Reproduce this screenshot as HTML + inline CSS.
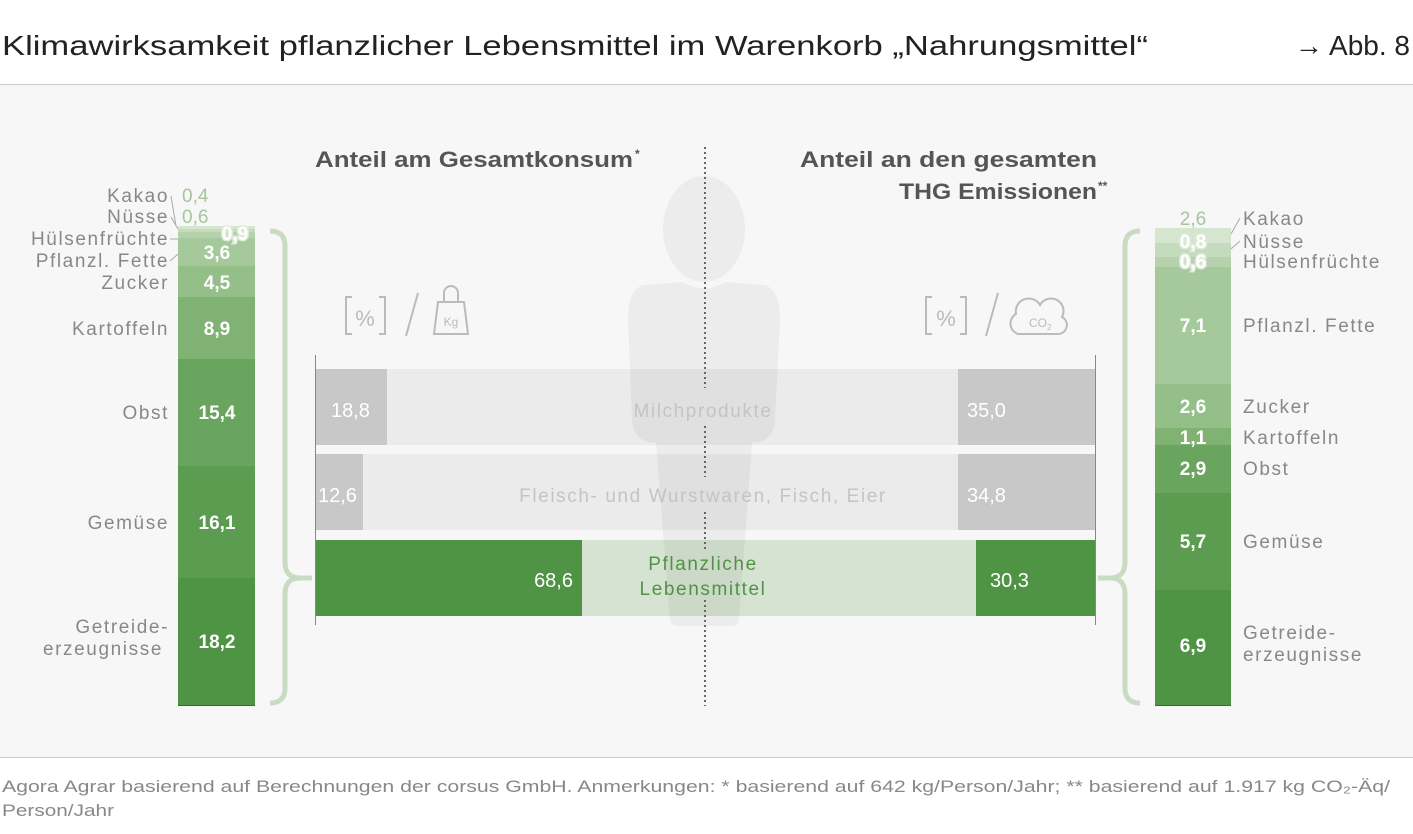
<!DOCTYPE html>
<html><head><meta charset="utf-8"><style>
html,body{margin:0;padding:0;background:#fff}
svg{display:block;font-family:"Liberation Sans",sans-serif}
.ls{letter-spacing:1.6px}
</style></head><body>
<svg width="1413" height="834" viewBox="0 0 1413 834" xmlns="http://www.w3.org/2000/svg">
<rect x="0" y="0" width="1413" height="834" fill="#fff"/>
<text x="2" y="55" font-size="28" fill="#222" textLength="1146" lengthAdjust="spacingAndGlyphs">Klimawirksamkeit pflanzlicher Lebensmittel im Warenkorb „Nahrungsmittel“</text>
<text x="1410" y="55" font-size="28" fill="#222" text-anchor="end">→ Abb. 8</text>
<rect x="0" y="84" width="1413" height="673" fill="#f7f7f7"/>
<line x1="0" y1="84.5" x2="1413" y2="84.5" stroke="#ccc"/>
<line x1="0" y1="757.5" x2="1413" y2="757.5" stroke="#ccc"/>
<text x="2" y="792" font-size="17" fill="#888" textLength="1388" lengthAdjust="spacingAndGlyphs">Agora Agrar basierend auf Berechnungen der corsus GmbH. Anmerkungen: * basierend auf 642 kg/Person/Jahr; ** basierend auf 1.917 kg CO₂-Äq/</text>
<text x="2" y="816" font-size="17" fill="#888" textLength="112" lengthAdjust="spacingAndGlyphs">Person/Jahr</text>

<!-- headers -->
<text x="315" y="167" font-size="22" font-weight="bold" fill="#555" textLength="318" lengthAdjust="spacingAndGlyphs">Anteil am Gesamtkonsum</text>
<text x="635" y="158" font-size="12" font-weight="bold" fill="#555">*</text>
<text x="800" y="167" font-size="22" font-weight="bold" fill="#555" textLength="297" lengthAdjust="spacingAndGlyphs">Anteil an den gesamten</text>
<text x="899" y="199" font-size="22" font-weight="bold" fill="#555" textLength="198" lengthAdjust="spacingAndGlyphs">THG Emissionen</text>
<text x="1098" y="190" font-size="12" font-weight="bold" fill="#555">**</text>

<!-- icons -->
<g fill="none" stroke="#bbb" stroke-width="2">
<path d="M352 297 h-6 v37 h6 M379 297 h6 v37 h-6"/>
<line x1="418" y1="293" x2="406" y2="336"/>
<path d="M434 334 L438 302 H464 L468 334 Z"/>
<path d="M444 302 v-9 a7 7 0 0 1 14 0 v9"/>
<path d="M932 297 h-6 v37 h6 M960 297 h6 v37 h-6"/>
<line x1="998" y1="293" x2="986" y2="336"/>
<path d="M1018 334 a11 11 0 0 1 -2 -20 a13 13 0 0 1 24 -9 a12 12 0 0 1 22 12 a9 9 0 0 1 -4 17 Z"/>
</g>
<text x="365" y="326" font-size="22" fill="#bbb" text-anchor="middle">%</text>
<text x="946" y="326" font-size="22" fill="#bbb" text-anchor="middle">%</text>
<text x="451" y="326" font-size="12" fill="#bbb" text-anchor="middle">Kg</text>
<text x="1029" y="327" font-size="12" fill="#bbb">CO<tspan font-size="8" dy="3">2</tspan></text>

<!-- center bars -->
<rect x="315" y="369" width="780" height="76" fill="#ebebeb"/>
<rect x="315" y="369" width="72" height="76" fill="#c8c8c8"/>
<rect x="958" y="369" width="137" height="76" fill="#c8c8c8"/>
<rect x="315" y="454" width="780" height="76" fill="#ebebeb"/>
<rect x="315" y="454" width="48" height="76" fill="#c8c8c8"/>
<rect x="958" y="454" width="137" height="76" fill="#c8c8c8"/>
<rect x="315" y="540" width="780" height="76" fill="#d6e3d2"/>
<rect x="315" y="540" width="267" height="76" fill="#4f9444"/>
<rect x="976" y="540" width="119" height="76" fill="#4f9444"/>

<!-- person -->
<g fill="#000" fill-opacity="0.045">
<ellipse cx="704" cy="229" rx="41" ry="53"/>
<path d="M643 285 Q628 290 628 320 L632 420 Q633 442 656 443 L670 620 Q671 626 678 626 L733 626 Q738 626 739 620 L752 443 Q774 442 775 420 L780 320 Q780 290 765 285 L725 282 Q704 295 683 282 Z"/>
</g>

<line x1="315.5" y1="355" x2="315.5" y2="625" stroke="#888" stroke-width="1"/>
<line x1="1095.5" y1="355" x2="1095.5" y2="625" stroke="#888" stroke-width="1"/>

<g stroke="#666" stroke-width="2" stroke-dasharray="2 3">
<line x1="705" y1="147" x2="705" y2="388"/>
<line x1="705" y1="426" x2="705" y2="477"/>
<line x1="705" y1="512" x2="705" y2="550"/>
<line x1="705" y1="600" x2="705" y2="706"/>
</g>

<g font-size="20" fill="#fff">
<text x="331" y="417">18,8</text>
<text x="967" y="417">35,0</text>
<text x="318" y="502">12,6</text>
<text x="967" y="502">34,8</text>
<text x="573" y="587" text-anchor="end">68,6</text>
<text x="990" y="587">30,3</text>
</g>
<text x="703" y="417" font-size="19" fill="#c4c4c4" text-anchor="middle" class="ls">Milchprodukte</text>
<text x="703" y="502" font-size="19" fill="#c4c4c4" text-anchor="middle" class="ls">Fleisch- und Wurstwaren, Fisch, Eier</text>
<text x="703" y="570" font-size="19" fill="#4f9444" text-anchor="middle" class="ls">Pflanzliche</text>
<text x="703" y="595" font-size="19" fill="#4f9444" text-anchor="middle" class="ls">Lebensmittel</text>

<!-- braces -->
<g fill="none" stroke="#c9dcc3" stroke-width="5">
<path d="M270 231 Q285 231 285 246 L285 562 Q285 578 300 578 M300 578 Q285 578 285 594 L285 688 Q285 703 270 703"/>
<line x1="300" y1="578" x2="312" y2="578"/>
<path d="M1140 231 Q1125 231 1125 246 L1125 562 Q1125 578 1110 578 M1110 578 Q1125 578 1125 594 L1125 688 Q1125 703 1140 703"/>
<line x1="1098" y1="578" x2="1110" y2="578"/>
</g>

<!-- left stacked bar -->
<rect x="178" y="226" width="77" height="3" fill="#d5e5d0"/>
<rect x="178" y="229" width="77" height="3" fill="#c5dbbe"/>
<rect x="178" y="232" width="77" height="6" fill="#b5d2ac"/>
<rect x="178" y="238" width="77" height="28" fill="#a5c99b"/>
<rect x="178" y="266" width="77" height="31" fill="#95bf89"/>
<rect x="178" y="297" width="77" height="62" fill="#80b274"/>
<rect x="178" y="359" width="77" height="107" fill="#6aa55f"/>
<rect x="178" y="466" width="77" height="112" fill="#5c9c51"/>
<rect x="178" y="578" width="77" height="127" fill="#4f9444"/>
<line x1="178" y1="705.5" x2="255" y2="705.5" stroke="#555"/>
<g font-size="19" font-weight="bold" fill="#fff" text-anchor="middle">
<text x="235" y="240" stroke="#dfeadb" stroke-width="3" paint-order="stroke">0,9</text>
<text x="217" y="259">3,6</text>
<text x="217" y="289">4,5</text>
<text x="217" y="335">8,9</text>
<text x="217" y="419">15,4</text>
<text x="217" y="529">16,1</text>
<text x="217" y="648">18,2</text>
</g>
<g font-size="19" fill="#a7c59d">
<text x="182" y="202">0,4</text>
<text x="182" y="223">0,6</text>
</g>
<g font-size="19" fill="#888" text-anchor="end" class="ls">
<text x="169" y="202">Kakao</text>
<text x="169" y="223">Nüsse</text>
<text x="169" y="245">Hülsenfrüchte</text>
<text x="169" y="267">Pflanzl. Fette</text>
<text x="169" y="289">Zucker</text>
<text x="169" y="335">Kartoffeln</text>
<text x="169" y="419">Obst</text>
<text x="169" y="529">Gemüse</text>
<text x="169" y="633">Getreide-</text>
<text x="163" y="655">erzeugnisse</text>
</g>
<g stroke="#aaa" stroke-width="1" fill="none">
<path d="M171 196 L176 226 M171 217 L178 229 M170 239 L178 239 M170 261 L178 254"/>
</g>

<!-- right stacked bar -->
<rect x="1155" y="228" width="76" height="15" fill="#d5e5d0"/>
<rect x="1155" y="243" width="76" height="14" fill="#c5dbbe"/>
<rect x="1155" y="257" width="76" height="10" fill="#b5d2ac"/>
<rect x="1155" y="267" width="76" height="117" fill="#a5c99b"/>
<rect x="1155" y="384" width="76" height="44" fill="#95bf89"/>
<rect x="1155" y="428" width="76" height="17" fill="#80b274"/>
<rect x="1155" y="445" width="76" height="48" fill="#6aa55f"/>
<rect x="1155" y="493" width="76" height="97" fill="#5c9c51"/>
<rect x="1155" y="590" width="76" height="115" fill="#4f9444"/>
<line x1="1155" y1="705.5" x2="1231" y2="705.5" stroke="#555"/>
<text x="1193" y="225" font-size="19" fill="#a7c59d" text-anchor="middle">2,6</text>
<g font-size="19" font-weight="bold" fill="#fff" text-anchor="middle">
<text x="1193" y="248" stroke="#dfeadb" stroke-width="3" paint-order="stroke">0,8</text>
<text x="1193" y="268" stroke="#dfeadb" stroke-width="3" paint-order="stroke">0,6</text>
<text x="1193" y="332">7,1</text>
<text x="1193" y="413">2,6</text>
<text x="1193" y="444">1,1</text>
<text x="1193" y="475">2,9</text>
<text x="1193" y="548">5,7</text>
<text x="1193" y="652">6,9</text>
</g>
<g font-size="19" fill="#888" class="ls">
<text x="1243" y="225">Kakao</text>
<text x="1243" y="248">Nüsse</text>
<text x="1243" y="268">Hülsenfrüchte</text>
<text x="1243" y="332">Pflanzl. Fette</text>
<text x="1243" y="413">Zucker</text>
<text x="1243" y="444">Kartoffeln</text>
<text x="1243" y="475">Obst</text>
<text x="1243" y="548">Gemüse</text>
<text x="1243" y="639">Getreide-</text>
<text x="1243" y="661">erzeugnisse</text>
</g>
<g stroke="#aaa" stroke-width="1" fill="none">
<path d="M1240 218 L1231 234 M1240 241 L1231 249"/>
</g>
</svg>
</body></html>
